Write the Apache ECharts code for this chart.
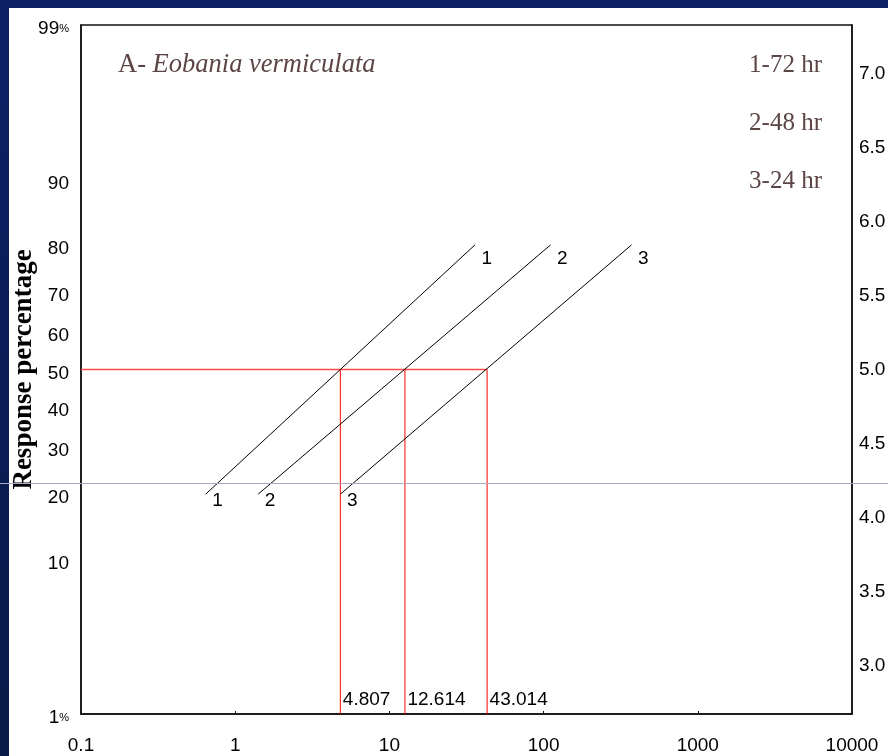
<!DOCTYPE html>
<html>
<head>
<meta charset="utf-8">
<script src="https://cdn.jsdelivr.net/npm/echarts@6/dist/echarts.min.js"></script>
<style>
html,body{margin:0;padding:0;background:#0b1e5a;}
#chart{width:888px;height:756px;}
</style>
</head>
<body>
<div id="chart"></div>
<script>
// ---- data ----
const seriesNames = ['1-72 hr', '2-48 hr', '3-24 hr'];
const lineLabels = ['1', '2', '3'];
const line1Doses = [0.644, 35.9];
const line2Doses = [1.41, 111];
const line3Doses = [4.81, 372];
const linePercents = [20, 80];
const lc50Values = [4.807, 12.614, 43.014];
const lc50Labels = ['4.807', '12.614', '43.014'];
const xTickValues = [0.1, 1, 10, 100, 1000, 10000];
const xTickLabels = ['0.1', '1', '10', '100', '1000', '10000'];
const leftTickPercents = [1, 10, 20, 30, 40, 50, 60, 70, 80, 90, 99];
const leftTickLabels = ['1%', '10', '20', '30', '40', '50', '60', '70', '80', '90', '99%'];
const rightTickValues = [3.0, 3.5, 4.0, 4.5, 5.0, 5.5, 6.0, 6.5, 7.0];
const axisPercentRange = [1, 99];

// probit transform (inverse normal CDF + 5)
function probit(pct) {
  const q = pct / 100;
  const a = [-3.969683028665376e+01, 2.209460984245205e+02, -2.759285104469687e+02, 1.383577518672690e+02, -3.066479806614716e+01, 2.506628277459239e+00];
  const b = [-5.447609879822406e+01, 1.615858368580409e+02, -1.556989798598866e+02, 6.680131188771972e+01, -1.328068155288572e+01];
  const c = [-7.784894002430293e-03, -3.223964580411365e-01, -2.400758277161838e+00, -2.549671348405449e+00, 4.374664141464968e+00, 2.938163982698783e+00];
  const d = [7.784695709041462e-03, 3.224671290700398e-01, 2.445134137142996e+00, 3.754408661907416e+00];
  const pl = 0.02425;
  let x;
  if (q < pl) {
    const r = Math.sqrt(-2 * Math.log(q));
    x = (((((c[0]*r+c[1])*r+c[2])*r+c[3])*r+c[4])*r+c[5]) / ((((d[0]*r+d[1])*r+d[2])*r+d[3])*r+1);
  } else if (q <= 1 - pl) {
    const r = q - 0.5, s = r * r;
    x = (((((a[0]*s+a[1])*s+a[2])*s+a[3])*s+a[4])*s+a[5])*r / (((((b[0]*s+b[1])*s+b[2])*s+b[3])*s+b[4])*s+1);
  } else {
    const r = Math.sqrt(-2 * Math.log(1 - q));
    x = -(((((c[0]*r+c[1])*r+c[2])*r+c[3])*r+c[4])*r+c[5]) / ((((d[0]*r+d[1])*r+d[2])*r+d[3])*r+1);
  }
  return 5 + x;
}

const yMin = probit(axisPercentRange[0]);
const yMax = probit(axisPercentRange[1]);
const p50 = probit(50);
const leftTickProbits = leftTickPercents.map(probit);

const sansFont = '"Liberation Sans", Arial, sans-serif';
const serifFont = '"Liberation Serif", "Times New Roman", serif';
const textBrown = '#5b4545';

const lineDoseSets = [line1Doses, line2Doses, line3Doses];
const doseSeries = lineDoseSets.map((doses, i) => ({
  type: 'line',
  name: seriesNames[i],
  symbol: 'circle',
  symbolSize: 1,
  itemStyle: { color: 'rgba(0,0,0,0)' },
  lineStyle: { color: '#000', width: 1 },
  silent: true,
  z: 3,
  label: {
    show: true,
    position: 'right',
    distance: 0,
    color: '#000',
    fontFamily: sansFont,
    fontSize: 19,
    formatter: () => lineLabels[i]
  },
  data: doses.map((dose, j) => ({
    value: [dose, probit(linePercents[j])],
    label: { offset: j === 0 ? [6, 7] : [6, 14] }
  }))
}));

const redH = {
  type: 'line',
  name: 'lc50-h',
  symbol: 'none',
  silent: true,
  z: 2,
  lineStyle: { color: '#ff4a4a', width: 1.5 },
  data: [[xTickValues[0], p50], [Math.max(...lc50Values), p50]]
};

const redV = lc50Values.map((lc, i) => ({
  type: 'line',
  name: 'lc50-v' + i,
  symbol: 'circle',
  symbolSize: 1,
  itemStyle: { color: 'rgba(0,0,0,0)' },
  silent: true,
  z: 2,
  lineStyle: { color: '#ff0000', width: 1 },
  label: { show: false },
  data: [
    { value: [lc, p50] },
    { value: [lc, yMin], label: {
        show: true, position: 'right', distance: 2, offset: [0, -14],
        color: '#000', fontFamily: sansFont, fontSize: 19,
        formatter: () => lc50Labels[i]
      } }
  ]
}));

const chart = echarts.init(document.getElementById('chart'), null, { renderer: 'canvas' });
chart.setOption({
  animation: false,
  backgroundColor: {
    type: 'linear', x: 0, y: 0, x2: 0, y2: 1,
    colorStops: [{ offset: 0, color: '#0d2066' }, { offset: 1, color: '#071a48' }]
  },
  title: {
    left: 118,
    top: 52,
    padding: 0,
    text: '{a|A- }{b|Eobania vermiculata}',
    textStyle: {
      fontWeight: 'normal',
      rich: {
        a: { fontFamily: serifFont, fontSize: 26.5, fontWeight: 'normal', color: textBrown },
        b: { fontFamily: serifFont, fontSize: 26.5, fontWeight: 'normal', fontStyle: 'italic', color: textBrown }
      }
    }
  },
  legend: {
    data: seriesNames,
    orient: 'vertical',
    right: 66,
    top: 53,
    padding: 0,
    icon: 'none',
    itemGap: 33,
    selectedMode: false,
    textStyle: { fontFamily: serifFont, fontSize: 25, color: textBrown }
  },
  grid: {
    left: 81, right: 36, top: 25, bottom: 42,
    show: true,
    borderColor: '#111',
    borderWidth: 1.5,
    backgroundColor: 'transparent',
    outerBoundsMode: 'none'
  },
  xAxis: {
    type: 'log',
    logBase: 10,
    min: xTickValues[0],
    max: xTickValues[xTickValues.length - 1],
    axisLine: { show: true, lineStyle: { color: '#111', width: 1.5 } },
    axisTick: { show: true, inside: true, length: 3, lineStyle: { color: '#111' } },
    minorTick: { show: false },
    splitLine: { show: false },
    axisLabel: {
      margin: 22,
      color: '#000',
      fontFamily: sansFont,
      fontSize: 19,
      formatter: (v) => {
        const lv = Math.log10(v);
        for (let i = 0; i < xTickValues.length; i++) {
          if (Math.abs(Math.log10(xTickValues[i]) - lv) < 1e-6) return xTickLabels[i];
        }
        return '';
      }
    }
  },
  yAxis: [
    {
      type: 'value',
      min: yMin,
      max: yMax,
      position: 'left',
      name: 'Response percentage',
      nameLocation: 'middle',
      nameGap: 43,
      nameMoveOverlap: false,
      nameTextStyle: { fontFamily: serifFont, fontWeight: 'bold', fontSize: 27, color: '#000' },
      axisLine: { show: true, lineStyle: { color: '#111', width: 1.5 } },
      axisTick: { show: false },
      splitLine: { show: false },
      axisLabel: {
        customValues: leftTickProbits,
        showMinLabel: true,
        showMaxLabel: true,
        margin: 12,
        color: '#000',
        fontFamily: sansFont,
        fontSize: 19,
        padding: [8, 0, 0, 0],
        formatter: (v) => {
          for (let i = 0; i < leftTickProbits.length; i++) {
            if (Math.abs(leftTickProbits[i] - v) < 1e-6) {
              const t = leftTickLabels[i];
              return t.endsWith('%') ? '{n|' + t.slice(0, -1) + '}{p|%}' : t;
            }
          }
          return '';
        },
        rich: {
          n: { fontFamily: sansFont, fontSize: 19, color: '#000' },
          p: { fontFamily: sansFont, fontSize: 11, color: '#000' }
        }
      }
    },
    {
      type: 'value',
      min: yMin,
      max: yMax,
      position: 'right',
      axisLine: { show: true, lineStyle: { color: '#111', width: 1.5 } },
      axisTick: { show: false },
      splitLine: { show: false },
      axisLabel: {
        customValues: rightTickValues,
        margin: 7,
        color: '#000',
        fontFamily: sansFont,
        fontSize: 19,
        formatter: (v) => v.toFixed(1)
      }
    }
  ],
  graphic: [
    { type: 'rect', z: -100, silent: true, shape: { x: 9, y: 8, width: 879, height: 748 }, style: { fill: '#ffffff' } },
    { type: 'line', z: 100, silent: true, shape: { x1: 0, y1: 483.5, x2: 888, y2: 483.5 }, style: { stroke: '#aaa8c4', lineWidth: 1 } }
  ],
  series: [redH, ...redV, ...doseSeries]
});
</script>
</body>
</html>
